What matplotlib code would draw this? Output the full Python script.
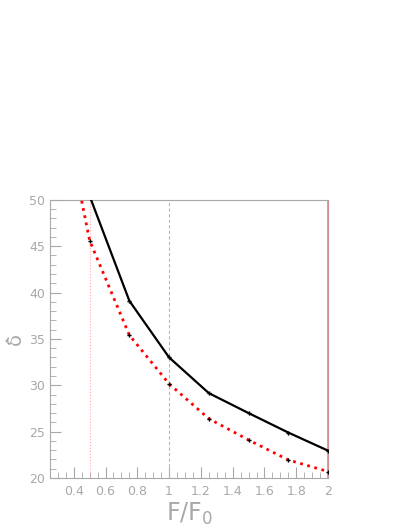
from matplotlib import pyplot as plt
from matplotlib.ticker import MultipleLocator, FuncFormatter

# Datos
x_negro = [0.5, 0.75, 1.0, 1.25, 1.5, 1.75, 2.0]
y_negro = [50.4, 39.1, 33.0, 29.15, 27.0, 24.9, 22.95]

x_rojo = [0.25, 0.5, 0.75, 1.0, 1.25, 1.5, 1.75, 2.0]
y_rojo = [67.0, 45.6, 35.4, 30.15, 26.4, 24.1, 21.95, 20.7]

gris = '#a8a8a8'

fig = plt.figure(figsize=(4.09, 5.29), dpi=100)
ax = fig.add_axes([0.122, 0.0964, 0.680, 0.526])

# Lineas verticales de referencia
ax.axvline(0.5, color='#ffaaaa', lw=0.8, ls=':')
ax.axvline(1.0, color='#ff9999', lw=0.8, ls='--', dashes=(3, 2))
ax.axvline(2.0, color='#d09090', lw=1.2)

# Curvas
ax.plot(x_rojo, y_rojo, color='red', lw=2, ls=':', zorder=3)
ax.plot(x_rojo, y_rojo, 'P', color='black', ms=3, mew=0, zorder=4)
ax.plot(x_negro, y_negro, color='black', lw=1.6, zorder=3)
ax.plot(x_negro, y_negro, 'P', color='black', ms=3, mew=0, zorder=4)

ax.set_xlim(0.25, 2.0)
ax.set_ylim(20, 50)

ax.xaxis.set_major_locator(MultipleLocator(0.2))
ax.xaxis.set_minor_locator(MultipleLocator(0.05))
ax.yaxis.set_major_locator(MultipleLocator(5))
ax.yaxis.set_minor_locator(MultipleLocator(1))
ax.xaxis.set_major_formatter(FuncFormatter(lambda v, p: f'{v:g}'))

ax.tick_params(which='both', direction='in', colors=gris, labelcolor=gris,
               labelsize=9, top=False, right=False)
ax.tick_params(which='major', length=8, width=0.8)
ax.tick_params(which='minor', length=4, width=0.6)
ax.tick_params(axis='x', pad=5)

for lado in ['left', 'bottom', 'top']:
    ax.spines[lado].set_color(gris)
ax.spines['right'].set_color('#d09090')

ax.set_xlabel(r'$\mathregular{F/F_0}$', color=gris, fontsize=17, labelpad=2)
ax.set_ylabel('\u03b4\u0302', color=gris, fontsize=14)
ax.yaxis.set_label_coords(-0.09, 0.5)

fig.savefig('out.png', dpi=100)
